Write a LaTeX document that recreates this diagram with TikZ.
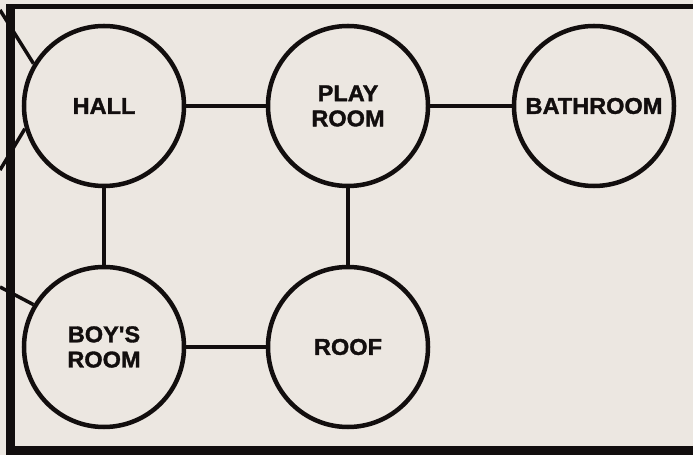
\documentclass[tikz,border=0pt]{standalone}
\usepackage{fontspec}
\newfontfamily\roomfont{Liberation Sans Bold}[FakeStretch=1.03,FakeBold=1.5]
\definecolor{paper}{RGB}{236,231,225}
\definecolor{ink}{RGB}{18,14,14}
\begin{document}
\begin{tikzpicture}[x=0.03cm,y=-0.03cm,
	room/.style={circle,draw=ink,line width=1.35mm,minimum size=4.8cm,inner sep=0pt,
		align=center,font=\roomfont\fontsize{19.5}{21.5}\selectfont,text=ink},
	link/.style={draw=ink,line width=1.05mm}]
				\useasboundingbox (0,0) rectangle (693,455);
				\fill[paper] (0,0) rectangle (693,455);
				% frame
				\fill[ink] (6,4) rectangle (693,9);
				\fill[ink] (6,4) rectangle (15,455);
				\fill[ink] (6,446) rectangle (693,455);
				% rooms
				\node[room] (hall) at (104,106) {HALL};
				\node[room] (play) at (348,106) {PLAY\\ROOM};
				\node[room] (bath) at (594,106) {BATHROOM};
				\node[room] (boys) at (104,347) {BOY'S\\ROOM};
				\node[room] (roof) at (348,347) {ROOF};
				% doors
				\draw[link] (hall) -- (play);
				\draw[link] (play) -- (bath);
				\draw[link] (hall) -- (boys);
				\draw[link] (play) -- (roof);
				\draw[link] (boys) -- (roof);
				% to the rooms off the page
				\coordinate (out1) at (0,10);
				\coordinate (out2) at (0,170);
				\coordinate (out3) at (0,287);
				\draw[link] (hall.149) -- (out1);
				\draw[link] (hall.196) -- (out2);
				\draw[link] (boys.149) -- (out3);
\end{tikzpicture}
\end{document}
